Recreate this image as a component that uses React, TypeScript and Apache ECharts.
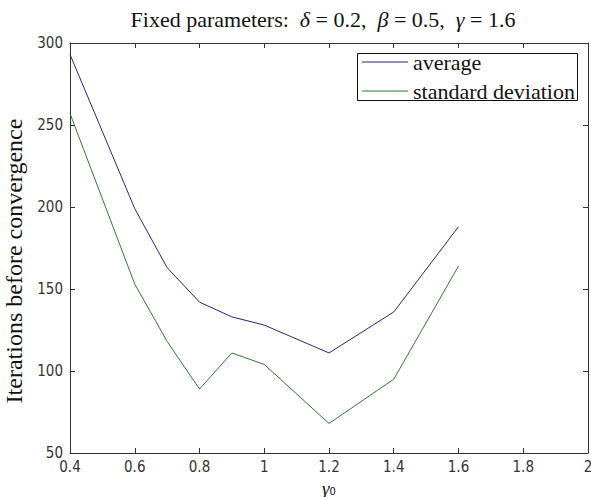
import React, { useEffect, useRef } from "react";
import * as echarts from "echarts";

// γ0 values at which the iteration counts were measured
const gamma0 = [0.4, 0.6, 0.7, 0.8, 0.9, 1.0, 1.2, 1.4, 1.6];
// Mean number of iterations before convergence
const averageIters = [293, 199, 163, 142, 133, 128, 111, 136, 188];
// Standard deviation of the number of iterations
const stdIters = [257, 153, 118, 89, 111, 104, 68, 95, 164];

const xTicks = { min: 0.4, max: 2, interval: 0.2 };
const yTicks = { min: 50, max: 300, interval: 50 };

const SERIF = "'Liberation Serif', 'DejaVu Serif', serif";
const SANS = "'DejaVu Sans Condensed', 'Liberation Sans Narrow', 'Liberation Sans', sans-serif";
const AXIS_COLOR = "#333";

export default function App() {
  const ref = useRef<HTMLDivElement>(null);

  useEffect(() => {
    if (!ref.current) return;
    const chart = echarts.init(ref.current, null, { renderer: "svg" });

    const pairs = (ys: number[]) => gamma0.map((x, i) => [x, ys[i]]);
    const fmt = (v: number) => String(+v.toFixed(1));

    const frameAxis = {
      axisLine: { show: true, lineStyle: { color: AXIS_COLOR, width: 1 } },
      axisTick: { show: true, inside: true, length: 5, lineStyle: { color: AXIS_COLOR } },
      splitLine: { show: false },
    };

    chart.setOption({
      animation: false,
      backgroundColor: "#fff",
      title: {
        text: "Fixed parameters:  {i|δ} = 0.2,  {i|β} = 0.5,  {i|γ} = 1.6",
        left: 318,
        textAlign: "center",
        top: 3,
        textStyle: {
          fontFamily: SERIF,
          fontSize: 22,
          fontWeight: "normal",
          color: "#111",
          rich: {
            i: { fontFamily: SERIF, fontSize: 22, fontStyle: "italic", color: "#111" },
          },
        },
      },
      // legend frame
      graphic: [
        {
          type: "rect",
          z: 3,
          shape: { x: 357.5, y: 53.5, width: 220, height: 47 },
          style: { fill: "#fff", stroke: "#111", lineWidth: 1 },
        },
      ],
      legend: {
        left: 357,
        top: 51,
        z: 5,
        orient: "vertical",
        padding: [0, 0, 0, 5],
        itemGap: 7,
        itemWidth: 46,
        itemHeight: 1,
        icon: "rect",
        textStyle: {
          fontFamily: SERIF,
          fontSize: 22,
          color: "#111",
          lineHeight: 17,
        },
        data: ["average", "standard deviation"],
      },
      grid: {
        left: 70,
        right: 3,
        top: 43,
        bottom: 44,
        containLabel: false,
        outerBoundsMode: "none",
      },
      xAxis: [
        {
          type: "value",
          min: xTicks.min,
          max: xTicks.max,
          interval: xTicks.interval,
          position: "bottom",
          ...frameAxis,
          axisLabel: {
            margin: 6,
            color: "#333",
            fontFamily: SANS,
            fontSize: 15,
            formatter: fmt,
            showMaxLabel: true,
            showMinLabel: true,
          },
          name: "{g|γ}{s|0}",
          nameLocation: "middle",
          nameGap: 19,
          nameTextStyle: {
            rich: {
              g: { fontFamily: SERIF, fontSize: 19, lineHeight: 20, fontStyle: "italic", color: "#111" },
              s: { fontFamily: SANS, fontSize: 11, lineHeight: 12, color: "#111", padding: [7, 0, 0, 0] },
            },
          },
        },
        {
          type: "value",
          min: xTicks.min,
          max: xTicks.max,
          interval: xTicks.interval,
          position: "top",
          ...frameAxis,
          axisLabel: { show: false },
        },
      ],
      yAxis: [
        {
          type: "value",
          min: yTicks.min,
          max: yTicks.max,
          interval: yTicks.interval,
          position: "left",
          ...frameAxis,
          axisLabel: {
            margin: 7,
            color: "#333",
            fontFamily: SANS,
            fontSize: 15,
            showMaxLabel: true,
            showMinLabel: true,
          },
          name: "Iterations before convergence",
          nameLocation: "middle",
          nameGap: 32,
          nameTextStyle: {
            fontFamily: SERIF,
            fontSize: 24,
            color: "#111",
            padding: [0, 26, 0, 0],
          },
        },
        {
          type: "value",
          min: yTicks.min,
          max: yTicks.max,
          interval: yTicks.interval,
          position: "right",
          ...frameAxis,
          axisLabel: { show: false },
        },
      ],
      series: [
        {
          name: "average",
          type: "line",
          xAxisIndex: 0,
          yAxisIndex: 0,
          data: pairs(averageIters),
          symbol: "none",
          lineStyle: { color: "#262680", width: 1 },
          itemStyle: { color: "#262680" },
        },
        {
          name: "standard deviation",
          type: "line",
          xAxisIndex: 0,
          yAxisIndex: 0,
          data: pairs(stdIters),
          symbol: "none",
          lineStyle: { color: "#2f7a2f", width: 1 },
          itemStyle: { color: "#2f7a2f" },
        },
      ],
    });

    return () => chart.dispose();
  }, []);

  return (
    <div
      ref={ref}
      style={{ position: "fixed", left: 0, top: 0, width: 591, height: 497, background: "#fff" }}
    />
  );
}
